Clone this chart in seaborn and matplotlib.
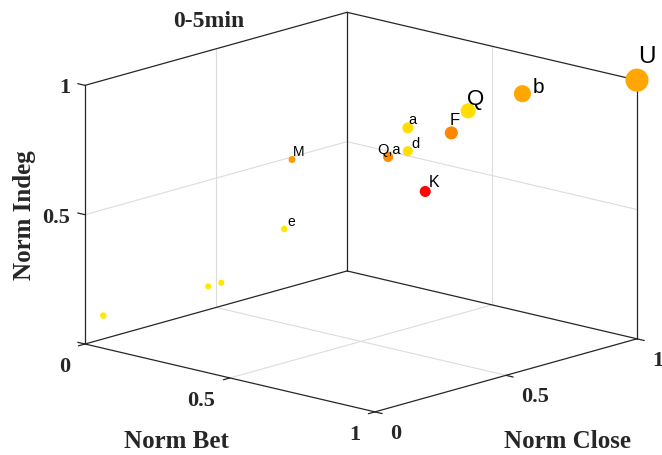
import numpy as np
import matplotlib
matplotlib.use("Agg")
import matplotlib.pyplot as plt
import seaborn as sns
from mpl_toolkits.mplot3d import proj3d

# node measures for the 0-5min window
node_labels = ["U", "b", "Q", "F", "a", "d", "Q,a", "K", "M", "e", "", "", ""]
norm_bet = [1.00, 0.65, 0.49, 0.45, 0.30, 0.30, 0.25, 0.36, 0.00, 0.00, 0.00, 0.00, 0.00]
norm_close = [1.00, 0.95, 0.92, 0.90, 0.90, 0.90, 0.88, 0.90, 0.79, 0.76, 0.47, 0.52, 0.07]
norm_indeg = [1.00, 0.87, 0.77, 0.68, 0.66, 0.57, 0.54, 0.43, 0.49, 0.23, 0.09, 0.09, 0.09]
heat = [0.65, 0.65, 0.87, 0.53, 0.87, 0.87, 0.55, 0.02, 0.60, 0.91, 0.91, 0.91, 0.91]
weight = [1.00, 0.55, 0.43, 0.32, 0.23, 0.19, 0.19, 0.23, 0.09, 0.08, 0.07, 0.07, 0.08]
ticks = [0, 0.5, 1]

# label styling (font size, pixel offset of left/baseline from the marker)
label_size = [17.5, 15, 16, 12, 10.5, 10.5, 10.5, 11.5, 10, 10]
label_off = [(1, -18), (10, -2), (-1, -7), (-2, -9), (1, -5), (4, -4), (-11, -4), (4, -5), (1, -5), (3, -4)]

sns.set_theme(style="white")
plt.rcParams["font.family"] = ["Liberation Sans", "DejaVu Sans"]
serif = ["Liberation Serif", "DejaVu Serif"]

W, H = 662, 456
fig = plt.figure(figsize=(W / 100, H / 100), dpi=100)
fig.patch.set_facecolor("white")
sq = W / H
ax = fig.add_axes([0, (1 - sq) / 2, 1, sq], projection="3d", proj_type="ortho", computed_zorder=False)
ax.view_init(elev=14.8, azim=-47.5)
ax.set_xlim(0, 1)
ax.set_ylim(0, 1)
ax.set_zlim(0, 1)
ax.set_axis_off()
aspect = (1.47, 1.45, 1.0)
ax.set_box_aspect(aspect)


def to_px(x, y, z):
    xs, ys, _ = proj3d.proj_transform(x, y, z, ax.get_proj())
    dx, dy = ax.transData.transform((xs, ys))
    return dx, H - dy


def put(x, y, s, **kw):
    fig.text(x / W, 1 - y / H, s, **kw)


# fit the box to the frame of the original figure
fig.canvas.draw()
x0, y0 = to_px(0, 0, 0)
x1, _ = to_px(1, 1, 0)
ax.set_box_aspect(aspect, zoom=552 / (x1 - x0))
fig.canvas.draw()
x0, y0 = to_px(0, 0, 0)
pos = ax.get_position(original=True)
ax.set_position([pos.x0 + (85 - x0) / W, pos.y0 - (345 - y0) / H, pos.width, pos.height])
fig.canvas.draw()

edge_c = "#262626"
grid_c = "#dcdcdc"

# back planes: grid at the middle tick
for t in ticks[1:-1]:
    for a, b in [((t, 0, 0), (t, 1, 0)), ((0, t, 0), (1, t, 0)),
                 ((0, t, 0), (0, t, 1)), ((0, 0, t), (0, 1, t)),
                 ((t, 1, 0), (t, 1, 1)), ((0, 1, t), (1, 1, t))]:
        ax.plot(*zip(a, b), color=grid_c, lw=0.8, zorder=1, clip_on=False)

edges = [((0, 0, 0), (1, 0, 0)), ((1, 0, 0), (1, 1, 0)), ((0, 0, 0), (0, 1, 0)),
         ((0, 1, 0), (1, 1, 0)), ((0, 0, 0), (0, 0, 1)), ((0, 1, 0), (0, 1, 1)),
         ((1, 1, 0), (1, 1, 1)), ((0, 0, 1), (0, 1, 1)), ((0, 1, 1), (1, 1, 1))]
for a, b in edges:
    ax.plot(*zip(a, b), color=edge_c, lw=0.9, zorder=2, clip_on=False)

tl = 0.025
for t in ticks:
    ax.plot([t, t], [0, -tl], [0, 0], color=edge_c, lw=0.9, zorder=2, clip_on=False)
    ax.plot([1, 1 + tl], [t, t], [0, 0], color=edge_c, lw=0.9, zorder=2, clip_on=False)
    ax.plot([0, -tl], [0, 0], [t, t], color=edge_c, lw=0.9, zorder=2, clip_on=False)

ax.scatter(norm_bet, norm_close, norm_indeg, s=np.array(weight) * 276, c=heat,
           cmap="autumn", vmin=0, vmax=1, depthshade=False, linewidths=0, zorder=3)

# tick labels
tick_txt = ["0", "0.5", "1"]
for t, s in zip(ticks, tick_txt):
    px, py = to_px(t, 0, 0)
    put(px - 15, py + 27, s, ha="right", va="baseline", fontsize=16, fontweight="bold", family=serif)
    px, py = to_px(1, t, 0)
    put(px + 15, py + 26, s, ha="left", va="baseline", fontsize=16, fontweight="bold", family=serif)
    if t > 0:
        px, py = to_px(0, 0, t)
        put(px - 15, py + 7, s, ha="right", va="baseline", fontsize=16, fontweight="bold", family=serif)

# node labels
for i, lab in enumerate(node_labels):
    if not lab:
        continue
    px, py = to_px(norm_bet[i], norm_close[i], norm_indeg[i])
    dx, dy = label_off[i]
    put(px + dx, py + dy, lab, ha="left", va="baseline", fontsize=label_size[i], color="black")

put(176, 448, "Norm Bet", ha="center", va="baseline", fontsize=18, fontweight="bold", family=serif)
put(568, 448, "Norm Close", ha="center", va="baseline", fontsize=18, fontweight="bold", family=serif)
put(25, 215, "Norm Indeg", ha="center", va="center", rotation=90, fontsize=18, fontweight="bold", family=serif)
put(209, 27, "0-5min", ha="center", va="baseline", fontsize=17, fontweight="bold", family=serif)

fig.savefig("out.png", dpi=100, facecolor="white")
